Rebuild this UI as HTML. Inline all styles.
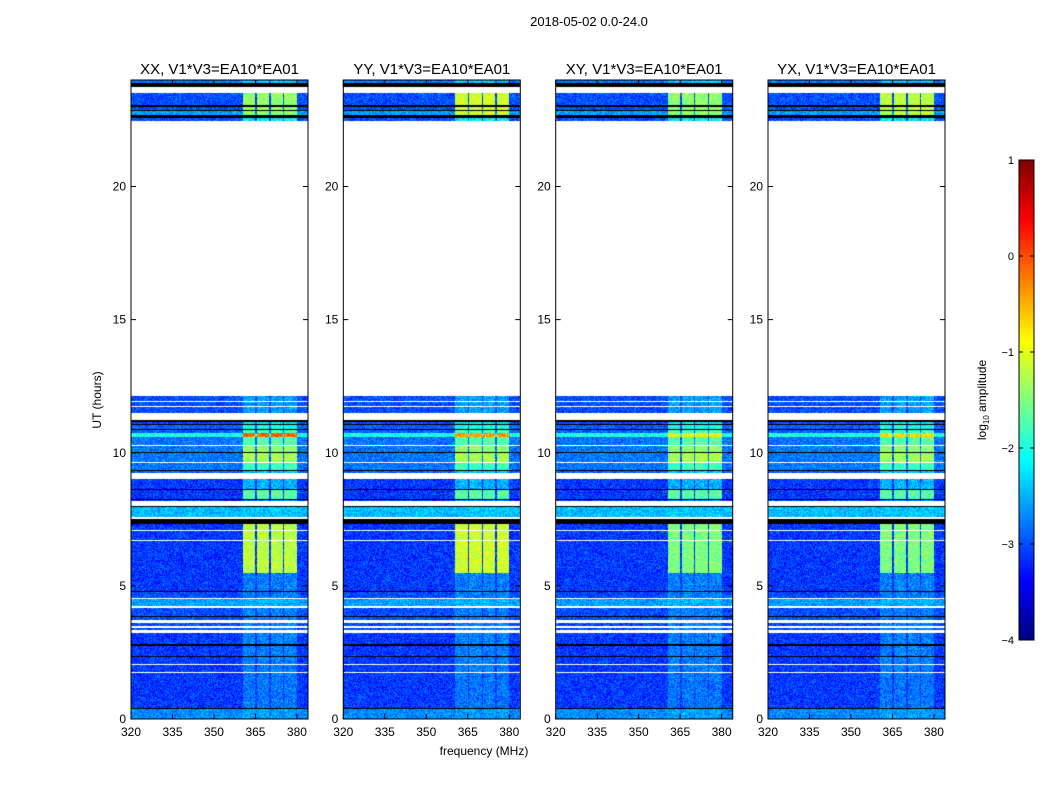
<!DOCTYPE html>
<html><head><meta charset="utf-8"><style>
body{margin:0;background:#fff;width:1050px;height:800px;overflow:hidden;position:relative;font-family:"Liberation Sans",sans-serif}
canvas{position:absolute}
svg{position:absolute;left:0;top:0}
</style></head><body>
<canvas id="c" width="1050" height="800" style="left:0;top:0"></canvas>
<svg id="s" width="1050" height="800"></svg>
<script>
// data
const panelTitles=["XX, V1*V3=EA10*EA01","YY, V1*V3=EA10*EA01","XY, V1*V3=EA10*EA01","YX, V1*V3=EA10*EA01"];
const xTicks=[320,335,350,365,380];
const yTicks=[0,5,10,15,20];
const cbTicks=[1,0,-1,-2,-3,-4];
const bandLo=[360.5,365.5,370.5,375.5];
const bandHi=[365,370,375,380];
// special band levels per panel: T (top), R (10.6h row), M (5.5-7.3h)
const levelT=[-1.4,-1.1,-1.4,-1.2];
const levelR=[-0.1,-0.4,-0.9,-0.7];
const levelM=[-1.2,-1.1,-1.5,-1.5];
// segments: [hiHour, loHour, kind(0 data,1 white,2 black), bgLevel, bandLevel]
const segs=[
[24,23.88,0,-2.8,-2.4],[23.88,23.74,2],[23.74,23.53,1],[23.53,23.06,0,-3.0,'T'],[23.06,23.0,2],
[23.0,22.87,0,-3.0,'T'],[22.87,22.82,2],[22.82,22.70,0,-2.6,'T'],[22.70,22.58,2],[22.58,22.47,0,-3.0,-2.2],
[22.47,12.12,1],[12.12,11.95,0,-3.0,-2.6],[11.95,11.91,1],[11.91,11.76,0,-3.0,-2.6],[11.76,11.72,1],
[11.72,11.48,0,-3.0,-2.6],[11.48,11.24,1],[11.24,11.17,2],[11.17,11.09,0,-3.0,-2.2],[11.09,11.05,2],
[11.05,10.90,0,-2.9,-2.0],[10.90,10.86,2],[10.86,10.75,0,-2.9,-1.8],[10.75,10.58,0,-2.0,'R'],
[10.58,10.30,0,-2.8,-1.7],[10.30,10.26,1],[10.26,10.04,0,-2.8,-1.4],[10.04,10.0,2],[10.0,9.66,0,-2.8,-1.3],
[9.66,9.62,1],[9.62,9.36,0,-2.8,-1.8],[9.36,9.32,2],[9.32,9.23,0,-2.9,-2.4],[9.23,9.01,1],
[9.01,8.65,0,-3.1,-2.5],[8.65,8.61,2],[8.61,8.28,0,-3.1,-1.7],[8.28,8.24,2],[8.24,8.18,0,-3.1,-2.7],
[8.18,7.99,1],[7.99,7.95,2],[7.95,7.58,0,-2.45,-2.4],[7.58,7.50,1],[7.50,7.32,2],
[7.32,7.11,0,-3.1,'M'],[7.11,7.07,1],[7.07,6.74,0,-3.1,'M'],[6.74,6.70,1],[6.70,5.48,0,-3.1,'M'],
[5.48,4.82,0,-3.1,-2.75],[4.82,4.78,2],[4.78,4.56,0,-3.0,-2.75],[4.56,4.52,1],[4.52,4.24,0,-2.6,-2.5],
[4.24,4.18,1],[4.18,3.88,0,-3.0,-2.75],[3.88,3.84,2],[3.84,3.71,0,-3.0,-2.75],[3.71,3.60,1],
[3.60,3.50,0,-3.0,-2.75],[3.50,3.40,1],[3.40,3.33,0,-3.0,-2.75],[3.33,3.23,1],[3.23,2.80,0,-3.1,-2.75],
[2.80,2.76,2],[2.76,2.35,0,-3.1,-2.75],[2.35,2.31,2],[2.31,2.08,0,-3.1,-2.75],[2.08,2.04,1],
[2.04,1.75,0,-3.1,-2.75],[1.75,1.71,1],[1.71,0.43,0,-3.1,-2.8],[0.43,0.39,2],[0.39,0,0,-2.7,-2.6]
];
const panelX=[131,343.3,555.7,768];
const PW=177, PT=80, PB=719, FMIN=320, FMAX=384, HMAX=24;
const yOf=h=>PB-(h/HMAX)*(PB-PT);
const xOf=(p,f)=>panelX[p]+(f-FMIN)/(FMAX-FMIN)*PW;
function jet(v){const t=Math.max(0,Math.min(1,(v+4)/5));const c=a=>Math.round(255*Math.max(0,Math.min(1,1.5-Math.abs(4*t-a))));return [c(3),c(2),c(1)];}
function hash(x,y){let n=x*374761393+y*668265263;n=(n^(n>>>13))*1274126177;n=n^(n>>>16);return ((n>>>0)%1000)/1000;}
const cv=document.getElementById('c');const ctx=cv.getContext('2d');
const img=ctx.createImageData(1050,800);const D=img.data;
for(let p=0;p<4;p++){
  const x0=Math.round(panelX[p]);
  for(const sg of segs){
    const y1=Math.round(yOf(sg[0])),y2=Math.round(yOf(sg[1]));
    for(let y=y1;y<y2;y++)for(let x=x0;x<x0+PW;x++){
      let col;
      if(sg[2]===1)col=[255,255,255];else if(sg[2]===2)col=[0,0,0];
      else{
        const f=FMIN+(x-panelX[p]+0.5)/PW*(FMAX-FMIN);
        let v=sg[3];
        for(let b=0;b<4;b++)if(f>=bandLo[b]&&f<bandHi[b]){
          let bl=sg[4];
          if(bl==='T')bl=levelT[p];else if(bl==='R')bl=levelR[p];else if(bl==='M')bl=levelM[p];
          v=bl;
        }
        v+= (hash(x,y)-0.5)*0.7;
        col=jet(v);
      }
      const i=(y*1050+x)*4;D[i]=col[0];D[i+1]=col[1];D[i+2]=col[2];D[i+3]=255;
    }
  }
}
// colorbar
for(let y=160;y<640;y++){const v=1-(y-160)/480*5;const col=jet(v);for(let x=1019;x<1034;x++){const i=(y*1050+x)*4;D[i]=col[0];D[i+1]=col[1];D[i+2]=col[2];D[i+3]=255;}}
ctx.putImageData(img,0,0);

const S=document.getElementById('s');const NS='http://www.w3.org/2000/svg';
function el(t,a,txt){const e=document.createElementNS(NS,t);for(const k in a)e.setAttribute(k,a[k]);if(txt!==undefined)e.textContent=txt;S.appendChild(e);return e;}
let e=el('text',{x:589,y:26,'font-size':13,'text-anchor':'middle'},'2018-05-02 0.0-24.0');


for(let p=0;p<4;p++){
  const x0=panelX[p];
  e=el('rect',{x:x0,y:PT,width:PW,height:PB-PT,fill:'none',stroke:'#000','stroke-width':1});
  
  
  e=el('text',{x:x0+PW/2,y:74,'font-size':15,'text-anchor':'middle'},panelTitles[p]);
  
  
  for(const t of xTicks){const x=xOf(p,t);
    el('line',{x1:x,x2:x,y1:PB,y2:PB-5,stroke:'#000'});el('line',{x1:x,x2:x,y1:PT,y2:PT+5,stroke:'#000'});
    e=el('text',{x:x,y:736,'font-size':12,'text-anchor':'middle'},String(t));
    
    }
  for(const t of yTicks){const y=yOf(t);
    el('line',{x1:x0,x2:x0+5,y1:y,y2:y,stroke:'#000'});el('line',{x1:x0+PW,x2:x0+PW-5,y1:y,y2:y,stroke:'#000'});
    e=el('text',{x:x0-5,y:y+4,'font-size':12,'text-anchor':'end'},String(t));
    
    }
}
e=el('text',{x:484,y:755,'font-size':12,'text-anchor':'middle'},'frequency (MHz)');


e=el('text',{x:0,y:0,'font-size':12,'text-anchor':'middle',transform:'translate(101,400) rotate(-90)'},'UT (hours)');


e=el('rect',{x:1019,y:160,width:15,height:480,fill:'none',stroke:'#000'});


cbTicks.forEach(t=>{const y=160+(1-t)/5*480;
  el('line',{x1:1019,x2:1023,y1:y,y2:y,stroke:'#000'});el('line',{x1:1034,x2:1030,y1:y,y2:y,stroke:'#000'});
  e=el('text',{x:1014,y:y+4,'font-size':11,'text-anchor':'end'},t<0?'\u2212'+(-t):String(t));
  
  });
const cl=el('text',{x:0,y:0,'font-size':12,'text-anchor':'middle',transform:'translate(986,400) rotate(-90)'});


const t1=document.createElementNS(NS,'tspan');t1.textContent='log';cl.appendChild(t1);
const t2=document.createElementNS(NS,'tspan');t2.textContent='10';t2.setAttribute('font-size',8);t2.setAttribute('dy',3);cl.appendChild(t2);
const t3=document.createElementNS(NS,'tspan');t3.textContent=' amplitude';t3.setAttribute('dy',-3);cl.appendChild(t3);
</script>
</body></html>
